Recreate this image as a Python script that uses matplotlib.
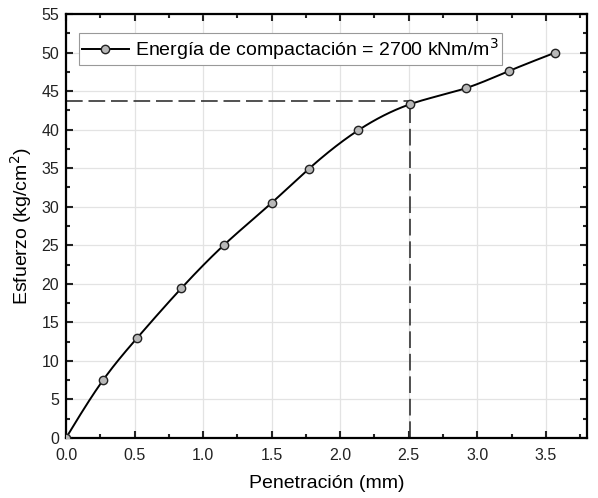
import numpy as np
import matplotlib.pyplot as plt
from matplotlib.ticker import MultipleLocator

plt.rcParams['font.family'] = ['Liberation Sans', 'DejaVu Sans']

# datos
penetracion = [0.0, 0.27, 0.52, 0.84, 1.15, 1.50, 1.77, 2.13, 2.51, 2.92, 3.23, 3.57]
esfuerzo = [0.0, 7.5, 13.0, 19.4, 25.0, 30.5, 34.9, 39.9, 43.3, 45.4, 47.6, 50.0]
esfuerzo_25 = 43.75
pen_25 = 2.51
etiqueta = 'Energía de compactación = 2700 kNm/m$^3$'


def spline_natural(x, y, n=400):
    # spline cúbico natural, sólo para dibujar la línea suave
    x = np.asarray(x, float)
    y = np.asarray(y, float)
    m = len(x)
    h = np.diff(x)
    A = np.zeros((m, m))
    b = np.zeros(m)
    A[0, 0] = 1
    A[-1, -1] = 1
    for i in range(1, m - 1):
        A[i, i - 1] = h[i - 1]
        A[i, i] = 2 * (h[i - 1] + h[i])
        A[i, i + 1] = h[i]
        b[i] = 6 * ((y[i + 1] - y[i]) / h[i] - (y[i] - y[i - 1]) / h[i - 1])
    M = np.linalg.solve(A, b)
    xs = np.linspace(x[0], x[-1], n)
    idx = np.clip(np.searchsorted(x, xs) - 1, 0, m - 2)
    x0, x1 = x[idx], x[idx + 1]
    hh = x1 - x0
    ys = (M[idx] * (x1 - xs) ** 3 / (6 * hh) + M[idx + 1] * (xs - x0) ** 3 / (6 * hh)
          + (y[idx] / hh - M[idx] * hh / 6) * (x1 - xs)
          + (y[idx + 1] / hh - M[idx + 1] * hh / 6) * (xs - x0))
    return xs, ys


fig = plt.figure(figsize=(5.98, 4.98), dpi=100)
ax = fig.add_axes([66 / 598, 60 / 498, 521 / 598, 424 / 498])

xs, ys = spline_natural(penetracion, esfuerzo)
ax.plot(xs, ys, color='black', lw=1.4, zorder=3)
ax.plot(penetracion, esfuerzo, 'o', ms=6, mfc='#b8b8b8', mec='#222222', mew=1.0, zorder=4)
# entrada de leyenda
ax.plot([], [], '-o', color='black', lw=1.4, ms=6, mfc='#b8b8b8', mec='#222222', mew=1.0, label=etiqueta)

ax.plot([0, pen_25], [esfuerzo_25, esfuerzo_25], color='#333333', lw=1.2, dashes=(10, 3.5), zorder=2)
ax.plot([pen_25, pen_25], [0, esfuerzo_25], color='#333333', lw=1.2, dashes=(10, 3.5), zorder=2)

ax.set_xlim(0, 3.8)
ax.set_ylim(0, 55)
ax.xaxis.set_major_locator(MultipleLocator(0.5))
ax.xaxis.set_minor_locator(MultipleLocator(0.25))
ax.yaxis.set_major_locator(MultipleLocator(5))
ax.yaxis.set_minor_locator(MultipleLocator(2.5))
ax.xaxis.set_major_formatter(plt.FuncFormatter(lambda v, p: f'{v:.1f}'))
ax.grid(True, which='major', color='#e3e3e3', lw=0.9, zorder=0)
ax.set_axisbelow(True)

ax.tick_params(which='both', direction='in', top=True, right=True, width=1.5, labelsize=11.5, colors='#222222')
ax.tick_params(axis='x', which='major', length=5, pad=7)
ax.tick_params(axis='y', which='major', length=5, pad=5)
ax.tick_params(which='minor', length=3)
for s in ax.spines.values():
    s.set_linewidth(1.6)

ax.set_xlabel('Penetración (mm)', fontsize=14, labelpad=9)
ax.set_ylabel('Esfuerzo (kg/cm$^2$)', fontsize=14, labelpad=5)

leg = ax.legend(loc='upper left', bbox_to_anchor=(13 / 521, 1 - 19 / 424), fontsize=14,
                frameon=True, fancybox=False, edgecolor='#999999', framealpha=1,
                borderpad=0.15, handlelength=2.4, borderaxespad=0, handletextpad=0.35)
leg.get_frame().set_linewidth(0.8)

fig.savefig('out.png', dpi=100)
